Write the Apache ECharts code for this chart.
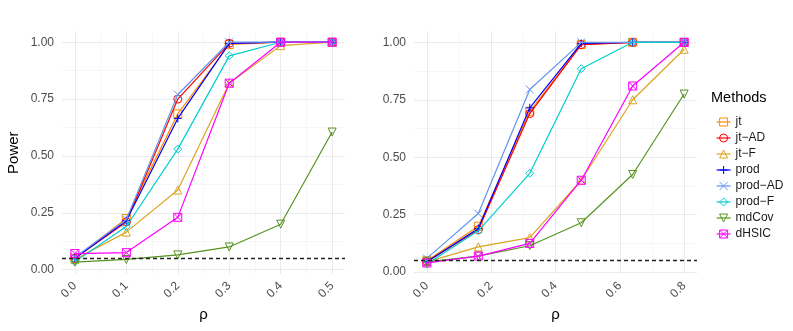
<!DOCTYPE html>
<html>
<head>
<meta charset="utf-8">
<script src="https://cdn.jsdelivr.net/npm/echarts@6/dist/echarts.min.js"></script>
<style>
  html, body { margin: 0; padding: 0; background: #fff; }
  #main { width: 793px; height: 331px; }
</style>
</head>
<body>
<div id="main"></div>
<script>
// categories / x values
var methods = ['jt', 'jt−AD', 'jt−F', 'prod', 'prod−AD', 'prod−F', 'mdCov', 'dHSIC'];
var rhoLeft = [0, 0.1, 0.2, 0.3, 0.4, 0.5];
var rhoRight = [0, 0.16, 0.32, 0.48, 0.64, 0.8];

// power, left panel
var jtLeft     = [0.050, 0.225, 0.685, 0.990, 1.000, 1.000];
var jtADLeft   = [0.050, 0.210, 0.750, 0.995, 1.000, 1.000];
var jtFLeft    = [0.045, 0.165, 0.350, 0.820, 0.985, 1.000];
var prodLeft   = [0.050, 0.215, 0.665, 0.995, 1.000, 1.000];
var prodADLeft = [0.055, 0.220, 0.770, 1.000, 1.000, 1.000];
var prodFLeft  = [0.035, 0.190, 0.530, 0.940, 1.000, 1.000];
var mdCovLeft  = [0.033, 0.045, 0.065, 0.100, 0.200, 0.605];
var dHSICLeft  = [0.071, 0.075, 0.230, 0.820, 1.000, 1.000];

// power, right panel
var jtRight     = [0.050, 0.200, 0.700, 0.990, 1.000, 1.000];
var jtADRight   = [0.045, 0.185, 0.690, 0.990, 1.000, 1.000];
var jtFRight    = [0.045, 0.110, 0.150, 0.400, 0.750, 0.970];
var prodRight   = [0.045, 0.190, 0.715, 0.995, 1.000, 1.000];
var prodADRight = [0.060, 0.255, 0.795, 1.000, 1.000, 1.000];
var prodFRight  = [0.035, 0.180, 0.430, 0.885, 1.000, 1.000];
var mdCovRight  = [0.045, 0.070, 0.115, 0.215, 0.425, 0.775];
var dHSICRight  = [0.040, 0.070, 0.125, 0.400, 0.810, 1.000];

// tick labels
var yTicks = [0, 0.25, 0.5, 0.75, 1];
var yMinor = [0.125, 0.375, 0.625, 0.875];
var xTicksLeft = [0, 0.1, 0.2, 0.3, 0.4, 0.5];
var xMinorLeft = [0.05, 0.15, 0.25, 0.35, 0.45];
var xTicksRight = [0, 0.2, 0.4, 0.6, 0.8];
var xMinorRight = [0.1, 0.3, 0.5, 0.7];
var alphaLevel = 0.05;

var leftData = [jtLeft, jtADLeft, jtFLeft, prodLeft, prodADLeft, prodFLeft, mdCovLeft, dHSICLeft];
var rightData = [jtRight, jtADRight, jtFRight, prodRight, prodADRight, prodFRight, mdCovRight, dHSICRight];

var colors = ['#FF8C00', '#FF0000', '#DAA520', '#0000FF', '#6495ED', '#00CED1', '#55941F', '#FF00FF'];
var symbols = [
  'rect',
  'circle',
  'path://M5,0L10,8.66L0,8.66Z',
  'path://M5,0L5,10M0,5L10,5',
  'path://M0,0L10,10M10,0L0,10',
  'path://M5,0L10,5L5,10L0,5Z',
  'path://M0,0L10,0L5,8.66Z',
  'path://M0,0L10,0L10,10L0,10ZM0,0L10,10M10,0L0,10'
];

var FONT = 'Liberation Sans';

function majorX(idx, min, max, ticks) {
  return {
    type: 'value', gridIndex: idx, min: min, max: max,
    name: 'ρ', nameLocation: 'middle', nameGap: 31,
    nameTextStyle: { fontFamily: FONT, fontSize: 15, color: '#000' },
    axisLine: { show: false }, axisTick: { show: false, customValues: ticks },
    axisLabel: {
      customValues: ticks, rotate: 45, margin: 10,
      fontFamily: FONT, fontSize: 12, color: '#4D4D4D',
      formatter: function (v) { return v.toFixed(1); }
    },
    splitLine: { show: true, lineStyle: { color: '#EBEBEB', width: 1 } }
  };
}
function minorX(idx, min, max, ticks) {
  return {
    type: 'value', gridIndex: idx, min: min, max: max, position: 'bottom',
    axisLine: { show: false }, axisTick: { show: false, customValues: ticks },
    axisLabel: { show: false, customValues: ticks },
    splitLine: { show: true, lineStyle: { color: '#F2F2F2', width: 0.6 } }
  };
}
function majorY(idx, min, max, name) {
  return {
    type: 'value', gridIndex: idx, min: min, max: max,
    name: name, nameLocation: 'middle', nameGap: 41,
    nameTextStyle: { fontFamily: FONT, fontSize: 15, color: '#000' },
    axisLine: { show: false }, axisTick: { show: false, customValues: yTicks },
    axisLabel: {
      customValues: yTicks, margin: 8,
      fontFamily: FONT, fontSize: 12, color: '#4D4D4D',
      formatter: function (v) { return v.toFixed(2); }
    },
    splitLine: { show: true, lineStyle: { color: '#EBEBEB', width: 1 } }
  };
}
function minorY(idx, min, max) {
  return {
    type: 'value', gridIndex: idx, min: min, max: max, position: 'left',
    axisLine: { show: false }, axisTick: { show: false, customValues: yMinor },
    axisLabel: { show: false, customValues: yMinor },
    splitLine: { show: true, lineStyle: { color: '#F2F2F2', width: 0.6 } }
  };
}

function makeSeries(data, xs, xIdx, yIdx) {
  var out = [];
  for (var i = 0; i < methods.length; i++) {
    out.push({
      name: methods[i], type: 'line', xAxisIndex: xIdx, yAxisIndex: yIdx,
      data: xs.map(function (x, j) { return [x, data[i][j]]; }),
      color: colors[i],
      symbol: symbols[i], symbolSize: 8, showAllSymbol: true,
      lineStyle: { color: colors[i], width: 1.2 },
      itemStyle: { color: 'rgba(0,0,0,0)', borderColor: colors[i], borderWidth: 1 },
      emphasis: { disabled: true }, animation: false, z: 2 + i * 0.01
    });
  }
  // dashed nominal level
  out.push({
    type: 'line', xAxisIndex: xIdx, yAxisIndex: yIdx, data: [], z: 5,
    markLine: {
      silent: true, symbol: 'none', label: { show: false },
      lineStyle: { color: '#222', width: 1.3, type: [4, 3] },
      data: [{ yAxis: alphaLevel }]
    }
  });
  return out;
}

var chart = echarts.init(document.getElementById('main'));
chart.setOption({
  backgroundColor: '#fff',
  animation: false,
  grid: [
    { left: 62, top: 31.3, width: 283, height: 242.7 },
    { left: 414, top: 31.3, width: 283, height: 242.7 }
  ],
  xAxis: [
    majorX(0, -0.025, 0.525, xTicksLeft),
    minorX(0, -0.025, 0.525, xMinorLeft),
    majorX(1, -0.04, 0.84, xTicksRight),
    minorX(1, -0.04, 0.84, xMinorRight)
  ],
  yAxis: [
    majorY(0, -0.019, 1.048, 'Power'),
    minorY(0, -0.019, 1.048),
    majorY(1, -0.008, 1.048, ''),
    minorY(1, -0.008, 1.048)
  ],
  legend: {
    data: methods, orient: 'vertical', left: 711, top: 109,
    itemWidth: 14, itemHeight: 10, itemGap: 0,
    lineStyle: { width: 1.2 },
    itemStyle: { borderWidth: 1 },
    textStyle: { fontFamily: FONT, fontSize: 12, color: '#1A1A1A', lineHeight: 16 },
    selectedMode: false
  },
  graphic: [{
    type: 'text', left: 711, top: 90,
    style: { text: 'Methods', fontFamily: FONT, fontSize: 14.5, fill: '#000' }
  }],
  series: makeSeries(leftData, rhoLeft, 0, 0).concat(makeSeries(rightData, rhoRight, 2, 2))
});
</script>
</body>
</html>
